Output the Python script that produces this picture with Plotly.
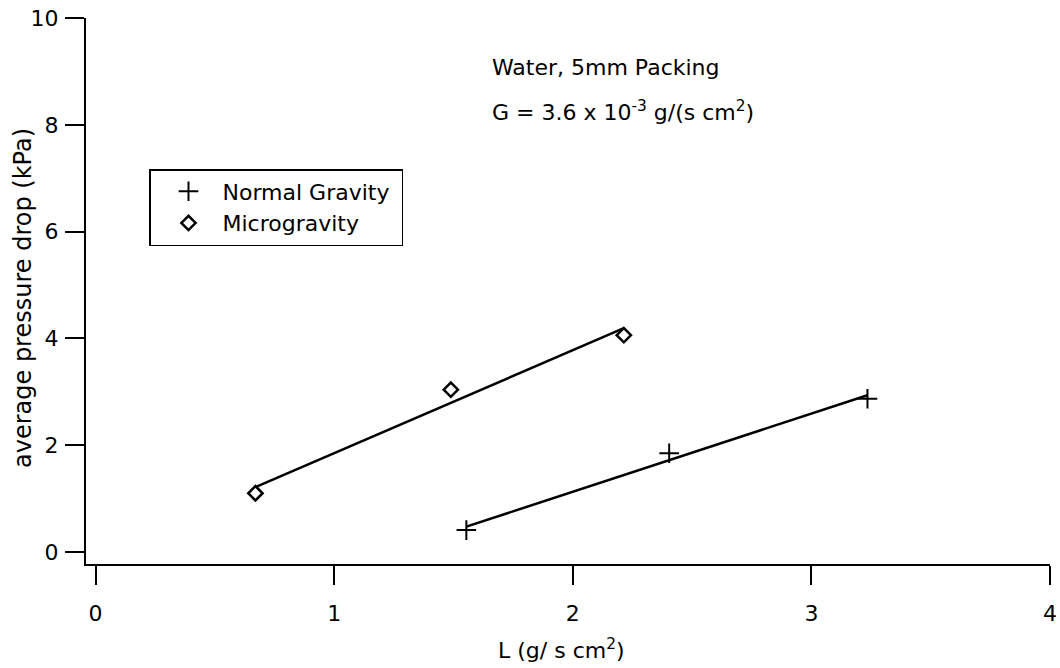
import numpy as np
import plotly.graph_objects as go

# Data
normal_L = [1.554, 2.404, 3.235]
normal_dp = [0.41, 1.85, 2.87]
micro_L = [0.67, 1.489, 2.214]
micro_dp = [1.10, 3.04, 4.06]

x_ticks = [0, 1, 2, 3, 4]
y_ticks = [0, 2, 4, 6, 8, 10]

FONT = "DejaVu Sans, Liberation Sans, Arial, sans-serif"
NB = "\u00a0"

# page body margin is removed in the written page; work in window pixels
W, H = 1060, 668
PX0, PX1, PY0, PY1 = 86, 1050, 18, 564  # plot-area frame in window pixels


def px(x):
    return (x - PX0) / (PX1 - PX0)


def py(y):
    return 1 - (y - PY0) / (PY1 - PY0)


def fit(xs, ys):
    m, b = np.polyfit(xs, ys, 1)
    xe = [min(xs), max(xs)]
    return xe, [m * v + b for v in xe]


fig = go.Figure()

for xs, ys in [(micro_L, micro_dp), (normal_L, normal_dp)]:
    fx, fy = fit(xs, ys)
    fig.add_trace(go.Scatter(x=fx, y=fy, mode="lines",
                             line=dict(color="black", width=2.5),
                             showlegend=False, hoverinfo="skip"))

fig.add_trace(go.Scatter(x=normal_L, y=normal_dp, mode="markers",
                         name=NB * 2 + "Normal Gravity" + NB,
                         marker=dict(symbol="cross-thin", size=14, color="black",
                                     line=dict(color="black", width=2))))
fig.add_trace(go.Scatter(x=micro_L, y=micro_dp, mode="markers",
                         name=NB * 2 + "Microgravity",
                         marker=dict(symbol="diamond-open", size=11, color="black",
                                     line=dict(color="black", width=2.5))))

fig.update_layout(
    width=W, height=H,
    margin=dict(l=PX0, r=W - PX1, t=PY0, b=H - PY1, autoexpand=False),
    paper_bgcolor="white", plot_bgcolor="white",
    font=dict(family=FONT, size=22, color="black"),
    showlegend=True,
    legend=dict(x=px(149), y=py(169), xanchor="left", yanchor="top",
                bordercolor="black", borderwidth=1.5, bgcolor="white",
                font=dict(size=22), tracegroupgap=0, itemwidth=30, indentation=18),
    xaxis=dict(range=[-0.04, 4.0], tickvals=x_ticks, ticktext=[str(v) for v in x_ticks],
               showgrid=False, zeroline=False, showline=True, linecolor="black", linewidth=2,
               ticks="outside", ticklen=19, tickwidth=2, tickcolor="black",
               ticklabelstandoff=10, tickfont=dict(size=22), automargin=False,
               ticklabeloverflow="allow"),
    yaxis=dict(range=[-0.225, 10.0], tickvals=y_ticks, ticktext=[str(v) for v in y_ticks],
               showgrid=False, zeroline=False, showline=True, linecolor="black", linewidth=2,
               ticks="outside", ticklen=19, tickwidth=2, tickcolor="black",
               ticklabelstandoff=2, tickfont=dict(size=22), automargin=False,
               ticklabeloverflow="allow"),
)

fig.add_annotation(x=px(490), y=py(67), xref="paper", yref="paper", xanchor="left", yanchor="middle",
                   text="Water, 5mm Packing", showarrow=False, font=dict(size=22))
fig.add_annotation(x=px(490), y=py(111), xref="paper", yref="paper", xanchor="left", yanchor="middle",
                   text="G = 3.6 x 10<sup>-3</sup> g/(s cm<sup>2</sup>)", showarrow=False,
                   font=dict(size=22))
fig.add_annotation(x=px(561), y=py(649), xref="paper", yref="paper",
                   xanchor="center", yanchor="middle",
                   text="L (g/ s cm<sup>2</sup>)", showarrow=False, font=dict(size=22))
fig.add_annotation(x=px(23), y=py(298), xref="paper", yref="paper",
                   xanchor="center", yanchor="middle", textangle=-90,
                   text="average pressure drop (kPa)", showarrow=False, font=dict(size=24))

fig.write_html("out.html",
               config={"displayModeBar": False},
               post_script="document.body.style.margin='0';document.body.style.overflow='hidden';")
